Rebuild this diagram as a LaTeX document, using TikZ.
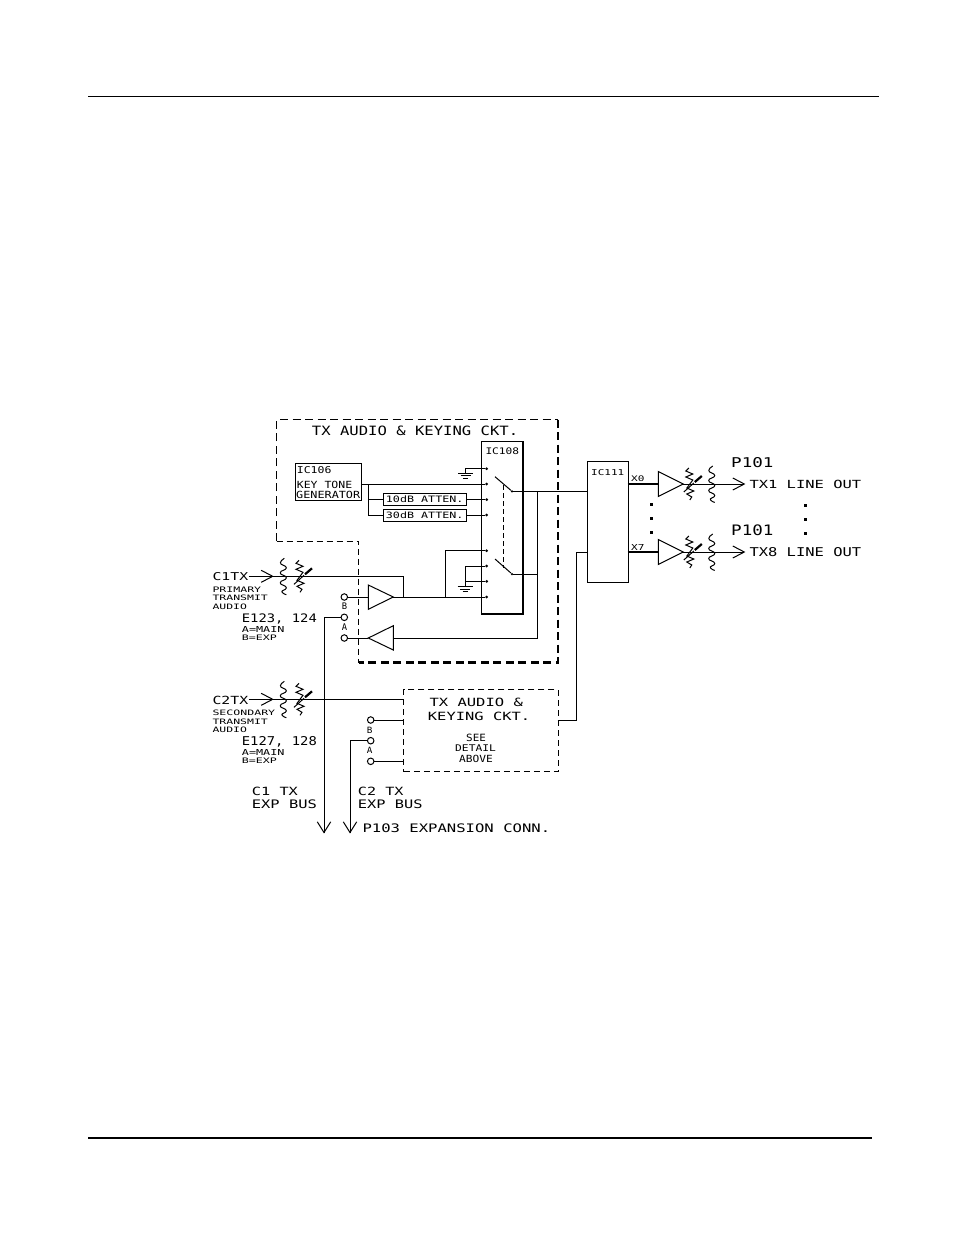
\documentclass[tikz,border=0pt]{standalone}
\usepackage{fontspec}
\usepackage{graphicx}
\setmainfont{DejaVu Sans Mono}
\usetikzlibrary{arrows.meta}
\tikzset{
  x=1pt,y=-1pt,
  wire/.style={line width=1pt,black},
  fine/.style={line width=1pt,dash pattern=on 6pt off 4pt},
  middash/.style={line width=1.5pt,dash pattern=on 8pt off 4.5pt},
  boldash/.style={line width=2.2pt,dash pattern=on 8pt off 4.5pt},
  box/.style={draw,line width=1.1pt,inner sep=0pt,anchor=north west},
  hvybox/.style={draw,line width=1.7pt,inner sep=0pt,anchor=north west},
  txt/.style={inner sep=0pt,anchor=base west},
  term/.style={circle,draw,fill=white,line width=1pt,inner sep=0pt,minimum size=6.5pt},
  pin/.style={circle,fill=black,inner sep=0pt,minimum size=3pt},
  bigdot/.style={rectangle,fill=black,inner sep=0pt,minimum size=3pt},
  openv/.style={line width=1pt}
}
\newcommand\coilsym[2]{\draw[line width=1pt,shift={(#1,#2)}] (1,-18) .. controls (-4,-15) and (-4,-12) .. (0,-11)
      .. controls (4,-10) and (4,-7) .. (0,-6)
      .. controls (-4,-5) and (-4,-2) .. (0,-1)
      .. controls (4,0) and (4,3) .. (0,4)
      .. controls (-4,5) and (-4,8) .. (0,9)
      .. controls (4,10) and (4,13) .. (0,14)
      .. controls (-3,15) and (-1,17) .. (3,18.5);}
\newcommand\ressym[2]{\draw[line width=1pt,shift={(#1,#2)}] (-1,-16) -- (-4,-13) -- (3,-10) -- (-4,-7) -- (3,-4) -- (0,0)
      -- (-3,4) -- (4,7) -- (-3,10) -- (2,13) -- (0,16);
    \draw[line width=1pt,shift={(#1,#2)}] (-6,8) -- (4,-1);
    \draw[line width=2.2pt,shift={(#1,#2)}] (5,-2) -- (12,-8);}
\newcommand\tx[6]{\pgfmathsetmacro\mytw{#3-#2}\pgfmathsetmacro\mytht{#5-#4}\node[txt] (#1) at (#2,#5) {\resizebox{\mytw pt}{\mytht pt}{#6}};}
\newcommand\bx[6][box]{\pgfmathsetmacro\mytw{#4-#3}\pgfmathsetmacro\mytht{#6-#5}\node[#1,minimum width=\mytw pt,minimum height=\mytht pt] (#2) at (#3,#5) {};}
\newcommand\vv[1]{\draw[openv] ([shift={(-11.5,-6)}]#1) -- (#1) -- ([shift={(-11.5,6)}]#1);}
\newcommand\dv[1]{\draw[openv] ([shift={(-6.7,-10.7)}]#1) -- (#1) -- ([shift={(6.7,-10.7)}]#1);}
\begin{document}
\begin{tikzpicture}
\useasboundingbox (0,0) rectangle (954,1235);
% page rules
\coordinate (rta) at (88,96); \coordinate (rtb) at (879,96);
\coordinate (rba) at (88,1138); \coordinate (rbb) at (872,1138);
\draw[line width=1pt] (rta) -- (rtb);
\draw[line width=2pt] (rba) -- (rbb);

% dashed outlines
\draw[middash] (276.5,541) -- (276.5,419.5) -- (558,419.5);
\draw[boldash] (558,419.5) -- (558,662.5) -- (358.7,662.5);
\draw[fine] (276.5,541) -- (358.7,541) -- (358.7,662.5);
\bx[draw,line width=1pt,dash pattern=on 6pt off 4pt,inner sep=0pt,anchor=north west]{detail}{403.3}{557.7}{689.3}{771}

% boxes
\bx[hvybox]{icE}{480.7}{522.3}{440.7}{613.3}
\bx{icF}{294.7}{361.3}{463.3}{500}
\bx{atA}{383.3}{466}{493.3}{505.3}
\bx{atB}{383.3}{466}{509}{521}
\bx{icG}{586.7}{627.7}{460.7}{582.3}

% IC108 pins
\foreach \n/\y in {1/468.7,2/484,3/499.6,4/515,5/550.7,6/566,7/581.3,8/597}
  \node[pin] (p\n) at (486.7,\y) {};

% grounds
\coordinate (g1) at (465.7,473.3);
\draw[line width=1.5pt] (p1) -| (g1);
\coordinate (g2) at (465.2,586.7);
\draw[wire] (p6) -| (g2);
\draw[wire] (p7) -- (p7 -| g2);
\foreach \g in {g1,g2}{
  \draw[line width=1pt] ([xshift=-7.5pt]\g) -- ([xshift=7.5pt]\g);
  \draw[line width=1pt] ([shift={(-5,2.6)}]\g) -- ([shift={(5,2.6)}]\g);
  \draw[line width=1pt] ([shift={(-2.5,5.2)}]\g) -- ([shift={(2.5,5.2)}]\g);
}

% IC106 feeds
\coordinate (jF) at (368.7,484);
\draw[wire] (icF.east |- p2) -- (p2);
\draw[wire] (jF) |- (atB.west |- p4);
\draw[wire] (jF |- p3) -- (atA.west |- p3);
\draw[wire] (atA.east |- p3) -- (p3);
\draw[wire] (atB.east |- p4) -- (p4);

% switches
\coordinate (s1a) at (495,476.7); \node[pin,minimum size=2.5pt] (s1b) at (512,491.3) {};
\coordinate (s2a) at (495,559);   \node[pin,minimum size=2.5pt] (s2b) at (512,574) {};
\draw[wire] (s1a) -- (s1b);
\draw[wire] (s2a) -- (s2b);
\coordinate (la) at (503.5,485); \coordinate (lb) at (503.5,568);
\draw[line width=1pt,dash pattern=on 5pt off 3pt] (la) -- (lb);

% amplifiers
\coordinate (aI) at (368.3,597); \coordinate (aO) at (393.3,597);
\draw[wire] (368.3,585) -- (393.3,597) -- (368.3,609.3) -- cycle;
\coordinate (bI) at (393.3,638); \coordinate (bO) at (368.3,638);
\draw[wire] (393.3,625.7) -- (368.3,638) -- (393.3,650) -- cycle;

% switch outputs and feedback
\coordinate (jS) at (537.7,491.3);
\draw[wire] (s1b) -- (icG.west |- s1b);
\draw[wire] (s2b) -- (s2b -| jS);
\draw[wire] (jS) |- (bI);
\draw[wire] (aO) -- (p8);
\coordinate (jP) at (445.3,597);
\draw[wire] (p5) -| (jP);

% terminals E123/124
\node[term] (tB) at (344.3,597) {};
\node[term] (tA) at (344.3,617.3) {};
\node[term] (tC) at (344.3,638) {};
\draw[wire] (tB) -- (aI);
\draw[wire] (tC) -- (bO);

% C1 bus
\coordinate (busA) at (324,832.5);
\draw[wire] (tA) -| (busA);
\dv{busA}

% C1 input
\coordinate (c1s) at (248.5,576.3); \coordinate (c1v) at (272.7,576.3);
\coordinate (c1j) at (403.3,576.3);
\draw[wire] (c1s) -- (c1j) -- (c1j |- aO);
\vv{c1v}
\coilsym{283.3}{576.3}
\ressym{300}{576.3}

% C2 input
\coordinate (c2s) at (248.5,699.3); \coordinate (c2v) at (272.7,699.3);
\coordinate (c2j) at (detail.west |- c2s);
\draw[wire] (c2s) -- (c2j);
\vv{c2v}
\coilsym{283.3}{699.3}
\ressym{300}{699.3}

% terminals E127/128
\node[term] (uB) at (370.7,720) {};
\node[term] (uA) at (370.7,740.7) {};
\node[term] (uC) at (370.7,761.3) {};
\draw[wire] (uB) -- (uB -| detail.west);
\draw[wire] (uC) -- (uC -| detail.west);
\coordinate (busB) at (350,832.5);
\draw[wire] (uA) -| (busB);
\dv{busB}

% detail output to IC111
\coordinate (dO) at (557.7,720);
\coordinate (iB) at (586.7,552);
\coordinate (jD) at (576.7,720);
\draw[wire] (dO) -- (jD) |- (iB);

% IC111 outputs
\foreach \k/\y in {A/484,B/552}{
  \coordinate (o\k) at (627.7,\y);
  \coordinate (oa\k) at (658.3,\y);
  \coordinate (ob\k) at (683.3,\y);
  \coordinate (ov\k) at (744.3,\y);
  \draw[wire] (oa\k) -- (658.3,\y-12.5) -- (ob\k) -- (658.3,\y+12.5) -- cycle;
  \draw[wire,line width=1.2pt] (o\k) -- (oa\k);
  \draw[wire] (ob\k) -- (ov\k);
  \vv{ov\k}
  \ressym{689.8}{\y}
  \coilsym{711.7}{\y}
}
% ellipsis dots
\foreach \n/\x/\y in {a/651/504,b/651/518,c/651/532.3,d/805/505,e/805/519,f/805/533}
  \node[bigdot] (dot\n) at (\x,\y) {};

% texts
\tx{t1}{311.7}{518}{426}{435.5}{TX AUDIO \& KEYING CKT.}
\tx{t2}{485.3}{519}{447.3}{454}{IC108}
\tx{t3}{296.7}{331.3}{466.7}{473.7}{IC106}
\tx{t4}{296.7}{352}{481}{488.3}{KEY TONE}
\tx{t5}{296}{360}{491}{498.3}{GENERATOR}
\tx{t6}{385.7}{463.3}{496}{502.7}{10dB ATTEN.}
\tx{t7}{385.7}{463.3}{511.7}{518.3}{30dB ATTEN.}
\tx{t8}{212.3}{248}{572.7}{580.7}{C1TX}
\tx{t9}{212.3}{261}{587}{592.5}{PRIMARY}
\tx{t10}{212.3}{267.7}{595.3}{600.8}{TRANSMIT}
\tx{t11}{212.3}{246.7}{603.6}{609.1}{AUDIO}
\tx{t12}{241.7}{316.7}{614}{622.7}{E123, 124}
\tx{t13}{241.7}{284.3}{626.5}{632.5}{A=MAIN}
\tx{t14}{241.7}{276.7}{634.5}{640}{B=EXP}
\tx{t15}{341.7}{347}{602.7}{609.3}{B}
\tx{t16}{341.7}{347}{623.3}{630}{A}
\tx{t17}{212.3}{248}{695.7}{704}{C2TX}
\tx{t18}{212.3}{275}{710.3}{715.8}{SECONDARY}
\tx{t19}{212.3}{267.7}{718.6}{724.1}{TRANSMIT}
\tx{t20}{212.3}{246.7}{727}{732.5}{AUDIO}
\tx{t21}{241.7}{316.7}{736.7}{745.7}{E127, 128}
\tx{t22}{241.7}{284.3}{749.5}{755.5}{A=MAIN}
\tx{t23}{241.7}{276.7}{757.5}{763}{B=EXP}
\tx{t24}{366.7}{372.3}{726.7}{733}{B}
\tx{t25}{366.7}{372.3}{746.7}{753}{A}
\tx{t26}{251.7}{297.7}{787.3}{795.7}{C1 TX}
\tx{t27}{251.7}{316.7}{799.3}{808}{EXP BUS}
\tx{t28}{357.7}{403.3}{787.3}{795.7}{C2 TX}
\tx{t29}{357.7}{422.3}{799.3}{808}{EXP BUS}
\tx{t30}{362.3}{550}{824}{832.7}{P103 EXPANSION CONN.}
\tx{t31}{429.3}{522.7}{698.3}{706.7}{TX AUDIO \&}
\tx{t32}{427.7}{530}{712.3}{720.7}{KEYING CKT.}
\tx{t33}{466}{485.7}{734.3}{741.7}{SEE}
\tx{t34}{455}{495.7}{745}{751.7}{DETAIL}
\tx{t35}{459}{492.7}{755}{762.3}{ABOVE}
\tx{t36}{591}{624}{469}{475}{IC111}
\tx{t37}{631}{644.3}{476}{481.7}{X0}
\tx{t38}{631}{644.3}{544}{550}{X7}
\tx{t39}{731}{773.3}{457.7}{467.7}{P101}
\tx{t40}{731}{773.3}{525}{535.7}{P101}
\tx{t41}{749.3}{861}{480}{488.3}{TX1 LINE OUT}
\tx{t42}{749.3}{861}{547.7}{556.7}{TX8 LINE OUT}
\end{tikzpicture}
\end{document}
